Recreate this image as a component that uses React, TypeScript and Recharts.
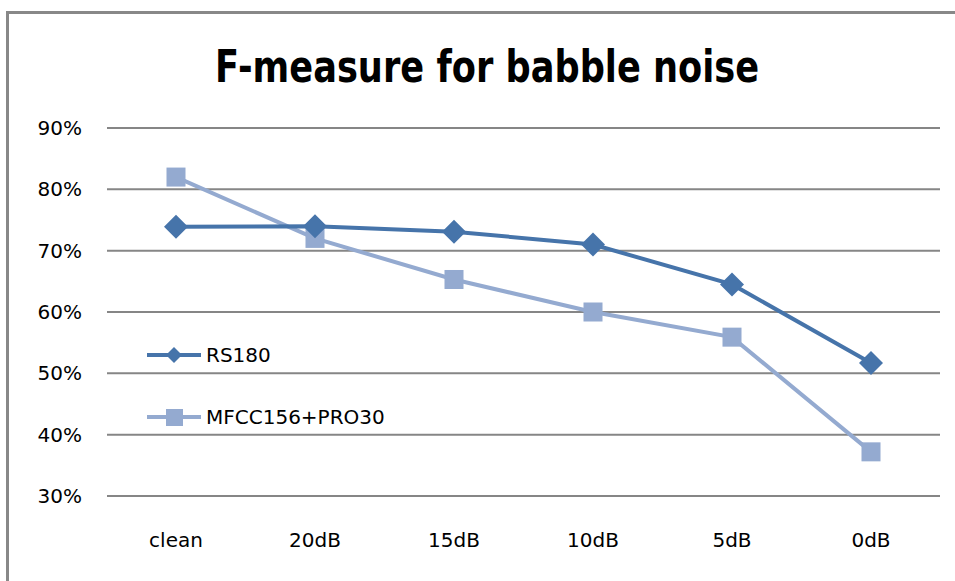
import React from 'react';
import { LineChart, Line, XAxis, YAxis, CartesianGrid } from 'recharts';

const categories = ['clean', '20dB', '15dB', '10dB', '5dB', '0dB'];
const rs180 = [0.739, 0.74, 0.731, 0.71, 0.645, 0.517];
const mfccPro = [0.82, 0.72, 0.653, 0.60, 0.559, 0.372];
const yTicks = [0.3, 0.4, 0.5, 0.6, 0.7, 0.8, 0.9];

const DARK = '#4674aa';
const LIGHT = '#94aad0';
const FONT = "'DejaVu Sans', sans-serif";

const data = categories.map((name, i) => ({
  name,
  RS180: rs180[i],
  'MFCC156+PRO30': mfccPro[i],
}));

const Diamond = (props: any) => {
  const { cx, cy } = props;
  if (cx == null || cy == null) return null;
  const r = 12;
  return (
    <path
      d={`M${cx},${cy - r} L${cx + r},${cy} L${cx},${cy + r} L${cx - r},${cy} Z`}
      fill={DARK}
    />
  );
};

const Square = (props: any) => {
  const { cx, cy } = props;
  if (cx == null || cy == null) return null;
  const s = 19;
  return <rect x={cx - s / 2} y={cy - s / 2} width={s} height={s} fill={LIGHT} />;
};

// legend sits inside the plot, left side
const LegendBox = () => (
  <div style={{ position: 'absolute', left: 146, top: 343, fontFamily: FONT, fontSize: 20, color: '#000' }}>
    <div style={{ display: 'flex', alignItems: 'center', height: 24 }}>
      <svg width={56} height={24}>
        <line x1={1} y1={12} x2={55} y2={12} stroke={DARK} strokeWidth={4} />
        <path d="M28,4 L36,12 L28,20 L20,12 Z" fill={DARK} />
      </svg>
      <span style={{ marginLeft: 4 }}>RS180</span>
    </div>
    <div style={{ display: 'flex', alignItems: 'center', height: 24, marginTop: 38 }}>
      <svg width={56} height={24}>
        <line x1={1} y1={12} x2={55} y2={12} stroke={LIGHT} strokeWidth={4} />
        <rect x={20} y={4} width={17} height={17} fill={LIGHT} />
      </svg>
      <span style={{ marginLeft: 4 }}>MFCC156+PRO30</span>
    </div>
  </div>
);

export default function App() {
  return (
    <div style={{ position: 'absolute', left: 0, top: 0, width: 955, height: 581, background: '#fff', overflow: 'hidden' }}>
      {/* frame edges */}
      <div style={{ position: 'absolute', left: 6, top: 11, width: 949, height: 570, borderLeft: '3px solid #888', borderTop: '3px solid #888' }} />
      <div
        style={{
          position: 'absolute',
          left: 0,
          top: 45,
          width: 975,
          textAlign: 'center',
          fontFamily: FONT,
          fontWeight: 'bold',
          fontSize: 44,
          lineHeight: '44px',
          color: '#000',
        }}
      >
        <span style={{ display: 'inline-block', transform: 'scaleX(0.8)' }}>F-measure for babble noise</span>
      </div>
      <LineChart
        width={955}
        height={581}
        data={data}
        margin={{ top: 128, right: 15, bottom: 55, left: 0 }}
        style={{ position: 'absolute', left: 0, top: 0 }}
      >
        <CartesianGrid vertical={false} stroke="#868686" strokeWidth={2} />
        <XAxis
          dataKey="name"
          height={30}
          padding={{ left: 69, right: 69 }}
          axisLine={false}
          tickLine={false}
          tickMargin={31}
          tick={{ fill: '#000', fontSize: 20, fontFamily: FONT }}
        />
        <YAxis
          width={107}
          domain={[0.3, 0.9]}
          ticks={yTicks}
          axisLine={false}
          tickLine={false}
          tickMargin={19}
          tickFormatter={(v: number) => `${Math.round(v * 100)}%`}
          tick={{ fill: '#000', fontSize: 20, fontFamily: FONT }}
        />
        <Line
          type="linear"
          dataKey="MFCC156+PRO30"
          stroke={LIGHT}
          strokeWidth={4}
          dot={<Square />}
          activeDot={false}
          isAnimationActive={false}
        />
        <Line
          type="linear"
          dataKey="RS180"
          stroke={DARK}
          strokeWidth={4}
          dot={<Diamond />}
          activeDot={false}
          isAnimationActive={false}
        />
      </LineChart>
      <LegendBox />
    </div>
  );
}
